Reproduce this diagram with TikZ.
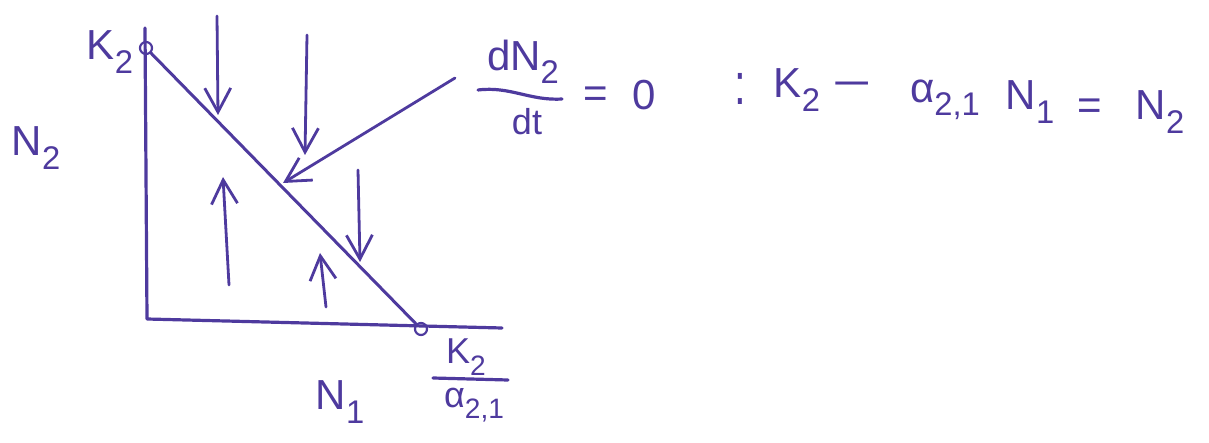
\documentclass[tikz,border=0pt]{standalone}
\usepackage{fontspec}
\setmainfont{Liberation Sans}
\usetikzlibrary{arrows.meta}
\definecolor{ink}{RGB}{78,58,158}
\newcommand{\hsub}[1]{\raisebox{-0.32em}{\fontsize{0.78em}{0.8em}\selectfont #1}}
\begin{document}
\begin{tikzpicture}[x=1pt,y=-1pt,
  inkline/.style={draw=ink, line width=3.2pt, line cap=round, line join=round},
  flowarrow/.style={draw=ink, line width=2.8pt, line cap=round, -{Straight Barb[length=24pt,width=26pt]}},
  lbl/.style={text=ink, inner sep=0pt, font=\fontsize{42}{46}\selectfont},
  smalllbl/.style={text=ink, inner sep=0pt, font=\fontsize{36}{40}\selectfont},
  dotpt/.style={circle, draw=ink, line width=2.2pt, minimum size=12pt, inner sep=0pt}]
\useasboundingbox (0,0) rectangle (1209,443);
% axes
\coordinate (ytop) at (145,28);
\coordinate (O) at (147,319);
\coordinate (xend) at (502,328);
\draw[inkline] (ytop) -- (O) -- (xend);
% intercept points and isocline
\node[dotpt] (K2pt) at (146,48) {};
\node[dotpt] (Kapt) at (421,329) {};
\draw[inkline, line width=3pt] (K2pt) -- (Kapt);
% flow arrows
\coordinate (d1s) at (217,16);  \coordinate (d1e) at (218,115);
\coordinate (d2s) at (307,35);  \coordinate (d2e) at (305,155);
\coordinate (d3s) at (358,170); \coordinate (d3e) at (360,262);
\coordinate (u1s) at (229,285); \coordinate (u1e) at (223,177);
\coordinate (u2s) at (326,307); \coordinate (u2e) at (320,253);
\draw[flowarrow] (d1s) -- (d1e);
\draw[flowarrow] (d2s) -- (d2e);
\draw[flowarrow] (d3s) -- (d3e);
\draw[flowarrow] (u1s) -- (u1e);
\draw[flowarrow] (u2s) -- (u2e);
% axis labels
\node[lbl] (lblK2) at (110,52) {K\hsub{2}};
\node[lbl] (lblN2) at (36,148) {N\hsub{2}};
\node[lbl] (lblN1) at (340,402) {N\hsub{1}};
\node[smalllbl] (kfnum) at (466,357) {K\hsub{2}};
\node[smalllbl] (kfden) at (474,405) {α\hsub{2,1}};
\coordinate (kbarL) at (433,378); \coordinate (kbarR) at (508,380);
\draw[inkline] (kbarL) -- (kbarR);
% equation
\node[lbl] (dnum) at (523,62) {dN\hsub{2}};
\node[smalllbl] (dden) at (527,122) {dt};
\coordinate (dbarL) at (478,90); \coordinate (dbarR) at (562,99);
\draw[inkline] (dbarL) .. controls (510,86) and (530,101) .. (dbarR);
\coordinate (ptrs) at (455,78); \coordinate (ptre) at (283,183);
\draw[flowarrow] (ptrs) -- (ptre);
\node[lbl] (eqA) at (596,97) {=};
\node[lbl] (zero) at (644,95) {0};
\node[lbl] (colon) at (740,89) {\scalebox{1}[1.4]{:}};
\node[lbl] (eqK) at (797,90) {K\hsub{2}};
\node[lbl] (eqminus) at (852,90) {\scalebox{1.6}[1]{−}};
\node[lbl] (eqalpha) at (945,100) {α\hsub{2,1}};
\node[lbl] (eqN1) at (1030,102) {N\hsub{1}};
\node[lbl] (eqB) at (1090,109) {=};
\node[lbl] (eqN2) at (1160,112) {N\hsub{2}};
\end{tikzpicture}
\end{document}
